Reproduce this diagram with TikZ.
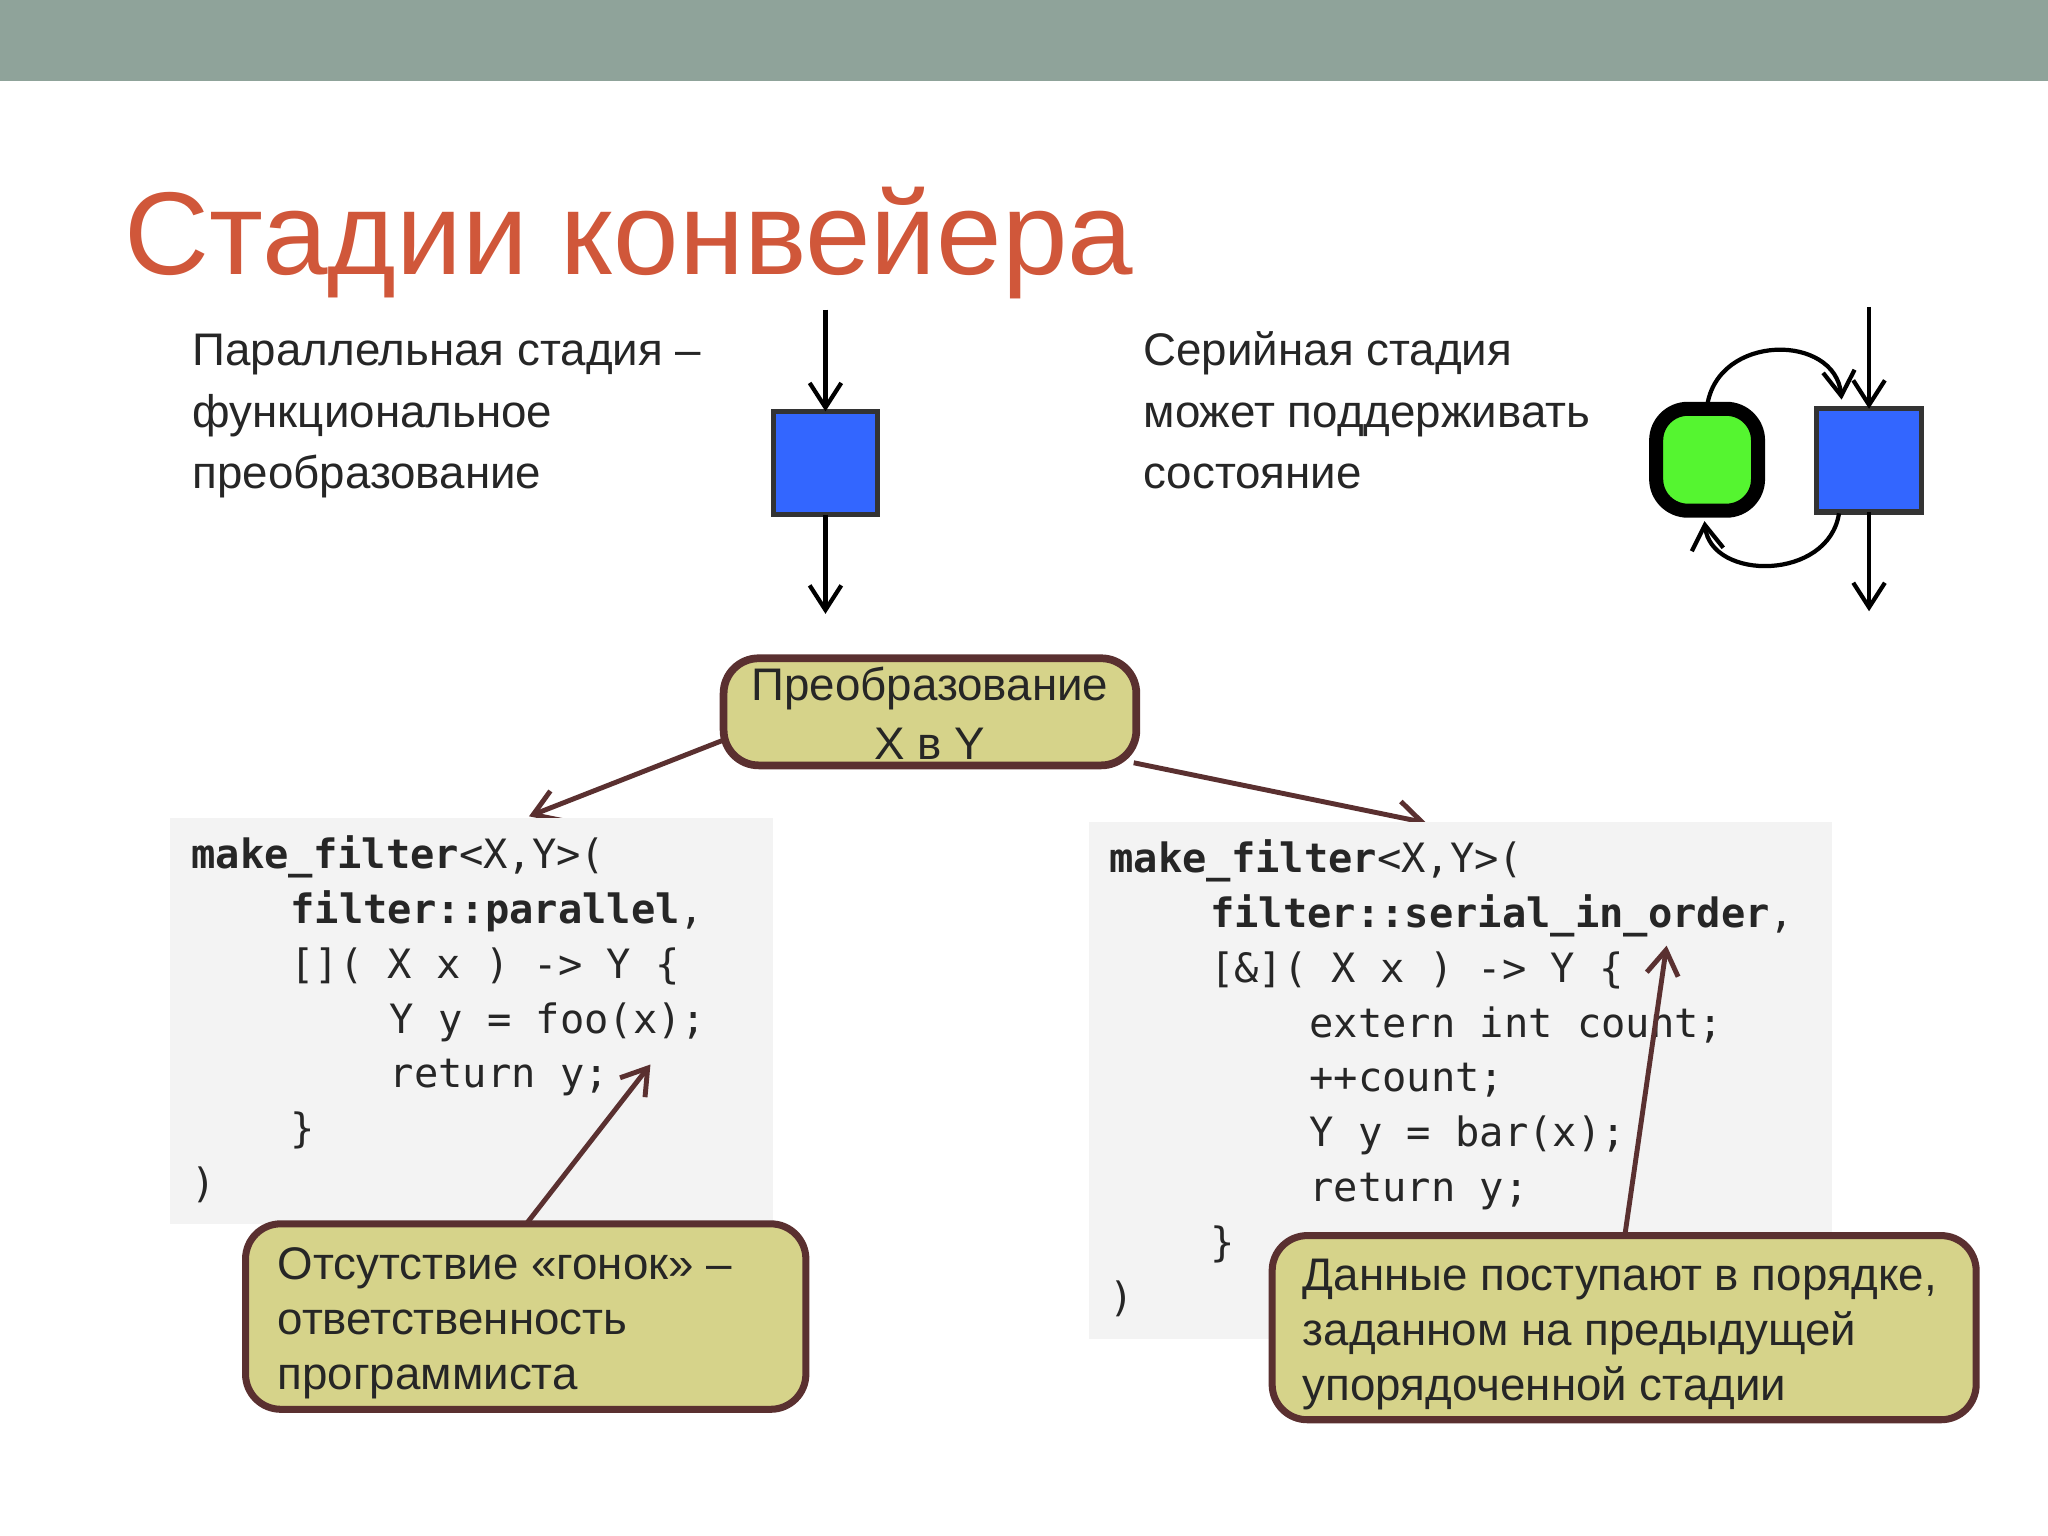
\documentclass[tikz,border=0pt]{standalone}
\usepackage{fontspec}
\setmainfont{Liberation Sans}
\setmonofont{DejaVu Sans Mono}
\usetikzlibrary{arrows.meta}
\definecolor{band}{HTML}{8FA39A}
\definecolor{ttl}{HTML}{D0573A}
\definecolor{blu}{HTML}{3366FF}
\definecolor{grn}{HTML}{55F530}
\definecolor{olive}{HTML}{D6D38A}
\definecolor{brn}{HTML}{5A3030}
\definecolor{codebg}{HTML}{F3F3F3}
\tikzset{
  txt/.style={anchor=base west,inner sep=0pt,font=\fontsize{13}{17.5}\selectfont,text=black!85},
  cd/.style={anchor=base west,inner sep=0pt,font=\ttfamily\fontsize{11.5}{14}\selectfont,text=black!85},
  arr/.style={-{Straight Barb[length=7pt,width=9pt]},line width=1.2pt},
  barr/.style={-{Straight Barb[length=7pt,width=9pt]},line width=1.4pt,brn},
  sq/.style={draw=black!80,line width=1.5pt,fill=blu},
  call/.style={draw=brn,line width=2pt,fill=olive,rounded corners=10pt}
}
\begin{document}
\begin{tikzpicture}[x=0.01306cm,y=-0.01306cm]
\useasboundingbox (0,0) rectangle (1568,1176);
\fill[band] (0,0) rectangle (1568,62);
\node[anchor=base west,inner sep=0pt,text=ttl,font=\fontsize{33.5}{40}\selectfont] (title) at (95,210) {Стадии конвейера};
% left
\node[txt] (l1) at (147,280) {Параллельная стадия –};
\node[txt] (l2) at (147,327) {функциональное};
\node[txt] (l3) at (147,374) {преобразование};
\draw[sq] (592,315) rectangle (672,394);
\coordinate (bt) at (632,315); \coordinate (bb) at (632,394);
\coordinate (bi) at (632,237); \coordinate (bo) at (632,470);
\draw[arr] (bi) -- (bt); \draw[arr] (bb) -- (bo);
% right
\node[txt] (r1) at (875,280) {Серийная стадия};
\node[txt] (r2) at (875,327) {может поддерживать};
\node[txt] (r3) at (875,374) {состояние};
\draw[line width=4pt,fill=grn,rounded corners=9pt] (1268,313) rectangle (1346,391);
\draw[sq] (1391,313) rectangle (1471,392);
\coordinate (ci) at (1431,235); \coordinate (ct) at (1431,313);
\coordinate (cb) at (1431,392); \coordinate (co) at (1431,468);
\draw[arr] (ci) -- (ct); \draw[arr] (cb) -- (co);
\draw[arr] (1307,311) .. controls (1315,255) and (1405,255) .. (1410,306);
\draw[arr] (1408,393) .. controls (1400,445) and (1310,445) .. (1305,399);
% transform box
\draw[call,line width=2.2pt] (554,504) rectangle (870,586);
\node[font=\fontsize{13}{17}\selectfont,align=center,text=black!85] (tb) at (712,546) {Преобразование\\X в Y};
\coordinate (tl) at (553,567); \coordinate (tr) at (868,584);
\coordinate (cl) at (405,625); \coordinate (crt) at (1092,630);
\draw[barr] (tl) -- (cl); \draw[barr] (tr) -- (crt);
% left code
\fill[codebg] (130,626) rectangle (592,937);
\node[cd] at (146,665) {\textbf{make\_filter}<X,Y>(};
\node[cd] at (222,707) {\textbf{filter::parallel},};
\node[cd] at (222,749) {[]( X x ) -> Y \{};
\node[cd] at (298,791) {Y y = foo(x);};
\node[cd] at (298,833) {return y;};
\node[cd] at (222,875) {\}};
\node[cd] at (146,917) {)};
% right code
\fill[codebg] (834,629) rectangle (1403,1025);
\node[cd] at (849,668) {\textbf{make\_filter}<X,Y>(};
\node[cd] at (926,710) {\textbf{filter::serial\_in\_order},};
\node[cd] at (926,752) {[\&]( X x ) -> Y \{};
\node[cd] at (1002,794) {extern int count;};
\node[cd] at (1002,836) {++count;};
\node[cd] at (1002,878) {Y y = bar(x);};
\node[cd] at (1002,920) {return y;};
\node[cd] at (926,962) {\}};
\node[cd] at (849,1004) {)};
% callouts
\draw[call] (188,937) rectangle (617,1079);
\node[txt] at (212,980) {Отсутствие «гонок» –};
\node[txt] at (212,1022) {ответственность};
\node[txt] at (212,1064) {программиста};
\coordinate (a1) at (403,937); \coordinate (a1e) at (498,815);
\draw[barr] (a1) -- (a1e);
\draw[call] (974,946) rectangle (1513,1087);
\node[txt] at (997,988) {Данные поступают в порядке,};
\node[txt] at (997,1030) {заданном на предыдущей};
\node[txt] at (997,1072) {упорядоченной стадии};
\coordinate (a2) at (1244,946); \coordinate (a2e) at (1276,724);
\draw[barr] (a2) -- (a2e);
\end{tikzpicture}
\end{document}
